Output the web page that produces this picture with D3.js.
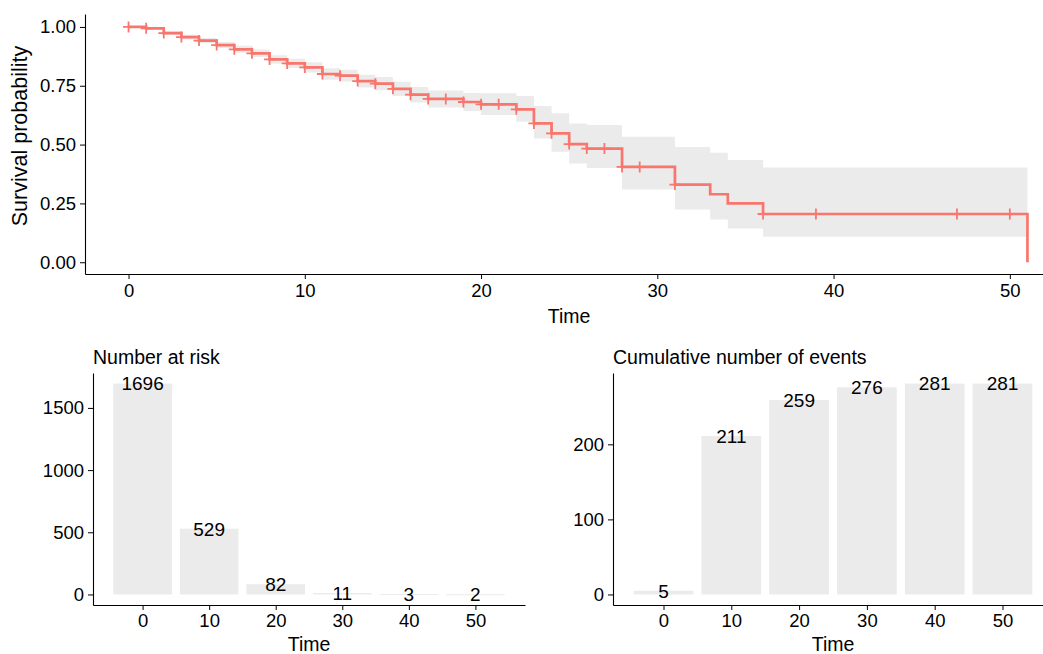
<!DOCTYPE html>
<html>
<head>
<meta charset="utf-8">
<script src="https://cdn.jsdelivr.net/npm/d3@7"></script>
<style>
  body { margin: 0; background: #fff; }
  svg { font-family: "Liberation Sans", Arial, sans-serif; }
  .axis path, .axis line { stroke: #000; }
  .axis text { fill: #000; font-size: 18.5px; }
</style>
</head>
<body>
<svg width="1043" height="654"></svg>
<script>

// ----- Survival curve (step times, estimate, confidence band) ----- //
var stepTime  = [0, 1, 2, 3, 4, 5, 6, 7, 8, 9, 10, 11, 12, 13, 14, 15, 16, 17, 19, 20, 22, 23, 24, 25, 26, 28, 31, 33, 34, 36];
var stepSurv  = [1.000, 0.994, 0.974, 0.957, 0.942, 0.923, 0.905, 0.888, 0.862, 0.845, 0.828, 0.800, 0.793, 0.770, 0.759, 0.737, 0.712, 0.694, 0.681, 0.671, 0.650, 0.590, 0.548, 0.502, 0.483, 0.405, 0.330, 0.289, 0.250, 0.205];
var stepUpper = [1.000, 0.998, 0.982, 0.967, 0.953, 0.936, 0.920, 0.904, 0.880, 0.865, 0.850, 0.824, 0.818, 0.797, 0.787, 0.767, 0.745, 0.730, 0.719, 0.718, 0.706, 0.664, 0.633, 0.590, 0.583, 0.533, 0.490, 0.465, 0.434, 0.403];
var stepLower = [1.000, 0.990, 0.966, 0.947, 0.931, 0.910, 0.890, 0.872, 0.844, 0.825, 0.806, 0.776, 0.768, 0.743, 0.731, 0.707, 0.679, 0.658, 0.643, 0.626, 0.597, 0.526, 0.470, 0.420, 0.400, 0.309, 0.224, 0.182, 0.143, 0.108];
var lastTime = 51;
var censorTime = [0, 1, 2, 3, 4, 5, 6, 7, 8, 9, 10, 11, 12, 13, 14, 15, 16, 17, 18, 19, 20, 21, 22, 23, 24, 25, 26, 27, 28, 29, 31, 36, 39, 47, 50];
var survTicks = [0, 0.25, 0.5, 0.75, 1];
var timeTicks = [0, 10, 20, 30, 40, 50];

// ----- Risk table ----- //
var tableTime  = [0, 10, 20, 30, 40, 50];
var riskCount  = [1696, 529, 82, 11, 3, 2];
var eventCount = [5, 211, 259, 276, 281, 281];

var lineColor = '#F8766D';
var greyFill = '#ebebeb';

var svg = d3.select('svg');

// ==================== Survival plot ==================== //
var survBox = {left: 85, right: 1053, top: 14, bottom: 274};

var x = d3.scaleLinear().domain([-2.47, 52.45]).range([survBox.left, survBox.right]);
var y = d3.scaleLinear().domain([-0.05, 1.055]).range([survBox.bottom, survBox.top]);

var steps = stepTime.map(function(t, i) {
  return {t: t, s: stepSurv[i], up: stepUpper[i], lo: stepLower[i]};
});
var bandData = steps.concat([{t: lastTime, up: stepUpper[stepUpper.length - 1], lo: stepLower[stepLower.length - 1]}]);
var lineData = steps.concat([{t: lastTime, s: 0}]);

var gSurv = svg.append('g');

gSurv.append('path')
  .datum(bandData)
  .attr('fill', greyFill)
  .attr('d', d3.area()
    .curve(d3.curveStepAfter)
    .x(function(d) { return x(d.t); })
    .y0(function(d) { return y(d.lo); })
    .y1(function(d) { return y(d.up); }));

gSurv.append('path')
  .datum(lineData)
  .attr('fill', 'none')
  .attr('stroke', lineColor)
  .attr('stroke-width', 2.7)
  .attr('d', d3.line()
    .curve(d3.curveStepAfter)
    .x(function(d) { return x(d.t); })
    .y(function(d) { return y(d.s); }));

function survAt(t) {
  var s = 1;
  steps.forEach(function(d) { if (d.t <= t) s = d.s; });
  return s;
}

gSurv.selectAll('path.censor')
  .data(censorTime)
  .enter()
  .append('path')
  .attr('class', 'censor')
  .attr('stroke', lineColor)
  .attr('stroke-width', 1.8)
  .attr('d', function(t) {
    var cx = x(t), cy = y(survAt(t)), r = 5.5;
    return 'M' + (cx - r) + ',' + cy + 'H' + (cx + r) + 'M' + cx + ',' + (cy - r) + 'V' + (cy + r);
  });

svg.append('g')
  .attr('class', 'axis')
  .attr('transform', translate(0, survBox.bottom))
  .call(d3.axisBottom(x).tickValues(timeTicks).tickSize(5).tickPadding(5).tickSizeOuter(0))
  .call(function(g) { g.select('.domain').attr('stroke-width', 1.1); });

svg.append('g')
  .attr('class', 'axis')
  .attr('transform', translate(survBox.left, 0))
  .call(d3.axisLeft(y).tickValues(survTicks).tickFormat(d3.format('.2f')).tickSize(5).tickPadding(4).tickSizeOuter(0))
  .call(function(g) { g.select('.domain').attr('stroke-width', 1.1); });

svg.append('text')
  .attr('x', 569).attr('y', 323)
  .attr('text-anchor', 'middle')
  .style('font-size', '19.5px')
  .text('Time');

svg.append('text')
  .attr('transform', 'translate(27,136) rotate(-90)')
  .attr('text-anchor', 'middle')
  .style('font-size', '21.5px')
  .text('Survival probability');

// ==================== Table panels ==================== //
drawTable({left: 93, right: 525, top: 373, bottom: 605}, riskCount, 'Number at risk');
drawTable({left: 613, right: 1053, top: 373, bottom: 605}, eventCount, 'Cumulative number of events');

function drawTable(box, values, title) {
  var max = d3.max(values);
  var bx = d3.scaleLinear().domain([-7.45, 57.45]).range([box.left, box.right]);
  var by = d3.scaleLinear().domain([-0.05 * max, 1.05 * max]).range([box.bottom, box.top]);
  var g = svg.append('g');
  var rows = tableTime.map(function(t, i) { return {t: t, v: values[i]}; });

  g.selectAll('rect')
    .data(rows)
    .enter()
    .append('rect')
    .attr('x', function(d) { return bx(d.t - 4.4); })
    .attr('width', bx(8.8) - bx(0))
    .attr('y', function(d) { return by(d.v); })
    .attr('height', function(d) { return Math.max(1, by(0) - by(d.v)); })
    .attr('fill', greyFill);

  g.selectAll('text.lab')
    .data(rows)
    .enter()
    .append('text')
    .attr('class', 'lab')
    .attr('x', function(d) { return bx(d.t); })
    .attr('y', function(d) { return by(d.v); })
    .attr('dy', '0.36em')
    .attr('text-anchor', 'middle')
    .style('font-size', '19px')
    .text(function(d) { return d.v; });

  svg.append('g')
    .attr('class', 'axis')
    .attr('transform', translate(0, box.bottom))
    .call(d3.axisBottom(bx).tickValues(tableTime).tickSize(5).tickPadding(4).tickSizeOuter(0))
    .call(function(a) { a.select('.domain').attr('stroke-width', 1.1); });

  var yTicks = max > 1000 ? [0, 500, 1000, 1500] : [0, 100, 200];
  svg.append('g')
    .attr('class', 'axis')
    .attr('transform', translate(box.left, 0))
    .call(d3.axisLeft(by).tickValues(yTicks).tickFormat(d3.format('d')).tickSize(5).tickPadding(4).tickSizeOuter(0))
    .call(function(a) { a.select('.domain').attr('stroke-width', 1.1); });

  svg.append('text')
    .attr('x', (box.left + box.right) / 2).attr('y', 651)
    .attr('text-anchor', 'middle')
    .style('font-size', '19.5px')
    .text('Time');

  svg.append('text')
    .attr('x', box.left).attr('y', 364)
    .style('font-size', '19.5px')
    .text(title);
}

function translate(x, y) {
  return 'translate(' + x + ',' + y + ')';
}

</script>
</body>
</html>
